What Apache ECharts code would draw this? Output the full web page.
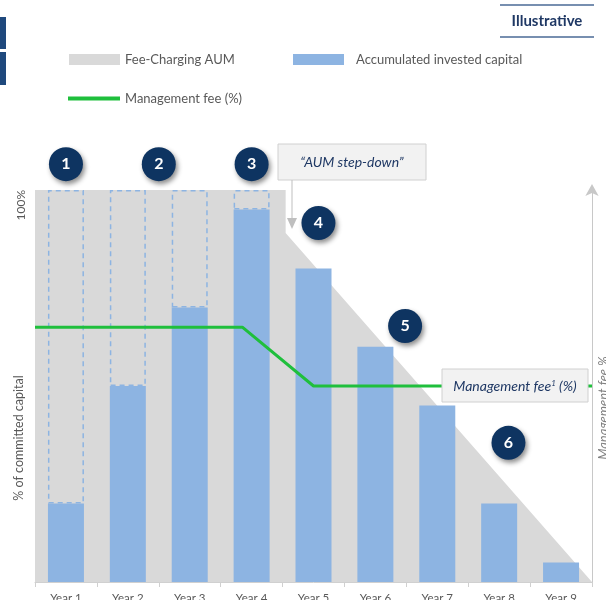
<!DOCTYPE html>
<html>
<head>
<meta charset="utf-8">
<script src="https://cdn.jsdelivr.net/npm/echarts@6/dist/echarts.min.js"></script>
<style>
    html, body { margin: 0; padding: 0; background: #fff; }
    #chart { width: 606px; height: 600px; }
</style>
</head>
<body>
<div id="chart"></div>
<script>
var years = ['Year 1', 'Year 2', 'Year 3', 'Year 4', 'Year 5', 'Year 6', 'Year 7', 'Year 8', 'Year 9'];
var investedCapital = [20, 50, 70, 95, 80, 60, 45, 20, 5];
var uninvestedCommitment = [80, 50, 30, 5, '-', '-', '-', '-', '-'];
// fee-charging AUM outline, x in year units
var feeChargingAum = [[0.5, 100], [4.55, 100], [4.55, 89], [9.5, 0]];
// management fee, indexed to the right axis
var managementFee = [[0.5, 65], [3.85, 65], [5, 50], [9.5, 50]];
var markerLabels = ['1', '2', '3', '4', '5', '6'];
var markerX = [1, 2.5, 4, 5.08, 6.48, 8.15];
var markerY = [106.6, 106.6, 106.6, 91.6, 65.3, 35.5];

var FONT = 'Lato, "Open Sans", sans-serif';
var NAVY = '#1f3864';
var GREY_TEXT = '#595959';

var markers = markerX.map(function (x, i) {
    return { value: [x, markerY[i]], label: { formatter: markerLabels[i] } };
});

var chart = echarts.init(document.getElementById('chart'));

var option = {
    animation: false,
    grid: { left: 35, right: 14, top: 190, bottom: 18, outerBoundsMode: 'none' },
    legend: [
        {
            left: 69, top: 53, padding: 0, itemWidth: 51, itemHeight: 11,
            textStyle: { fontFamily: FONT, fontSize: 13, color: GREY_TEXT },
            data: [{ name: 'Fee-Charging AUM', icon: 'rect', itemStyle: { color: '#d9d9d9', borderWidth: 0 } }]
        },
        {
            left: 293, top: 53, padding: 0, itemWidth: 51, itemHeight: 11,
            textStyle: { fontFamily: FONT, fontSize: 13, color: GREY_TEXT, padding: [0, 0, 0, 7] },
            data: [{ name: 'Accumulated invested capital', icon: 'rect', itemStyle: { color: '#8db4e2', borderWidth: 0 } }]
        },
        {
            left: 68, top: 92, padding: 0, itemWidth: 52, itemHeight: 4,
            textStyle: { fontFamily: FONT, fontSize: 13, color: GREY_TEXT },
            data: [{ name: 'Management fee (%)', icon: 'rect', itemStyle: { color: '#1fbf3c', borderWidth: 0 } }]
        }
    ],
    xAxis: [
        {
            type: 'category',
            data: years,
            axisLine: { lineStyle: { color: '#d0d0d0' } },
            axisTick: { show: true, length: 5, lineStyle: { color: '#d0d0d0' } },
            axisLabel: { fontFamily: FONT, fontSize: 11.5, color: GREY_TEXT, margin: 10 }
        },
        {
            type: 'value',
            min: 0.5,
            max: 9.5,
            show: false
        }
    ],
    yAxis: [
        {
            type: 'value',
            min: 0,
            max: 100,
            interval: 100,
            axisLine: { show: false },
            axisTick: { show: false },
            splitLine: { show: false },
            axisLabel: {
                rotate: 90,
                align: 'right',
                verticalAlign: 'bottom',
                margin: 8,
                fontFamily: FONT,
                fontSize: 12,
                color: GREY_TEXT,
                formatter: function (v) { return v === 100 ? '100%' : ''; }
            }
        },
        {
            type: 'value',
            position: 'right',
            min: 0,
            max: 100,
            axisLine: {
                show: true,
                symbol: ['none', 'arrow'],
                symbolSize: [10, 12],
                symbolOffset: [0, 6],
                lineStyle: { color: '#c8c8c8', width: 1 }
            },
            axisTick: { show: false },
            axisLabel: { show: false },
            splitLine: { show: false }
        }
    ],
    series: [
        {
            name: 'Fee-Charging AUM',
            type: 'line',
            xAxisIndex: 1,
            yAxisIndex: 0,
            data: feeChargingAum,
            symbol: 'none',
            itemStyle: { color: '#d9d9d9' },
            lineStyle: { width: 0 },
            areaStyle: { color: '#d9d9d9', opacity: 1 },
            z: 1
        },
        {
            name: 'Accumulated invested capital',
            type: 'bar',
            stack: 'capital',
            data: investedCapital,
            barWidth: 36,
            itemStyle: { color: '#8db4e2' },
            z: 2
        },
        {
            name: 'Uncalled commitment',
            type: 'bar',
            stack: 'capital',
            data: uninvestedCommitment,
            barWidth: 36,
            itemStyle: {
                color: 'rgba(0,0,0,0)',
                borderColor: '#8db4e2',
                borderWidth: 1.5,
                borderType: [5, 4]
            },
            z: 2
        },
        {
            name: 'Management fee (%)',
            type: 'line',
            xAxisIndex: 1,
            yAxisIndex: 1,
            data: managementFee,
            symbol: 'none',
            itemStyle: { color: '#1fbf3c' },
            lineStyle: { color: '#1fbf3c', width: 3 },
            z: 3
        },
        {
            name: 'Steps',
            type: 'scatter',
            xAxisIndex: 1,
            yAxisIndex: 0,
            data: markers,
            clip: false,
            symbol: 'circle',
            symbolSize: 34,
            itemStyle: {
                color: '#0e3461',
                opacity: 1,
                shadowBlur: 5,
                shadowOffsetX: 2,
                shadowOffsetY: 3,
                shadowColor: 'rgba(0,0,0,0.45)'
            },
            label: {
                show: true,
                position: 'inside',
                color: '#fff',
                fontFamily: FONT,
                fontWeight: 'bold',
                fontSize: 16
            },
            z: 6
        }
    ],
    graphic: [
        { type: 'rect', shape: { x: 0, y: 17, width: 6, height: 32 }, style: { fill: '#1f497d' } },
        { type: 'rect', shape: { x: 0, y: 52, width: 6, height: 33 }, style: { fill: '#1f497d' } },
        { type: 'line', shape: { x1: 500, y1: 5, x2: 594, y2: 5 }, style: { stroke: '#4a6a96', lineWidth: 1.5 } },
        { type: 'line', shape: { x1: 500, y1: 37, x2: 594, y2: 37 }, style: { stroke: '#4a6a96', lineWidth: 1.5 } },
        {
            type: 'text', x: 547, y: 21,
            style: { text: 'Illustrative', fill: NAVY, font: 'bold 15px ' + FONT, textAlign: 'center', textVerticalAlign: 'middle' }
        },
        {
            type: 'text', x: 19, y: 438, rotation: Math.PI / 2,
            style: { text: '% of committed capital', fill: GREY_TEXT, font: '12.5px ' + FONT, textAlign: 'center', textVerticalAlign: 'middle' }
        },
        {
            type: 'text', x: 604, y: 408, rotation: Math.PI / 2,
            style: { text: 'Management fee %', fill: '#7f7f7f', font: 'italic 13px ' + FONT, textAlign: 'center', textVerticalAlign: 'middle' }
        },
        // "AUM step-down" callout
        {
            type: 'rect', shape: { x: 278, y: 144, width: 148, height: 36 }, z: 10,
            style: { fill: '#f2f2f2', stroke: '#d0d0d0', lineWidth: 1 }
        },
        {
            type: 'text', x: 352, y: 162, z: 11,
            style: { text: '\u201cAUM step-down\u201d', fill: NAVY, font: 'italic 14px ' + FONT, textAlign: 'center', textVerticalAlign: 'middle' }
        },
        { type: 'line', z: 10, shape: { x1: 292, y1: 180, x2: 292, y2: 219 }, style: { stroke: '#bfbfbf', lineWidth: 1 } },
        { type: 'polygon', z: 10, shape: { points: [[287, 218], [297, 218], [292, 229]] }, style: { fill: '#bfbfbf' } },
        // management fee callout
        {
            type: 'rect', shape: { x: 442, y: 369, width: 146, height: 33 }, z: 10,
            style: { fill: '#f2f2f2', stroke: '#d0d0d0', lineWidth: 1 }
        },
        {
            type: 'text', x: 515, y: 386, z: 11,
            style: {
                text: 'Management fee{sup|1} (%)',
                fill: NAVY,
                font: 'italic 14px ' + FONT,
                textAlign: 'center',
                textVerticalAlign: 'middle',
                rich: {
                    sup: { fontSize: 8, fontStyle: 'italic', fontFamily: FONT, fill: NAVY, verticalAlign: 'top', padding: [0, 0, 6, 0] }
                }
            }
        }
    ]
};

chart.setOption(option);
</script>
</body>
</html>
